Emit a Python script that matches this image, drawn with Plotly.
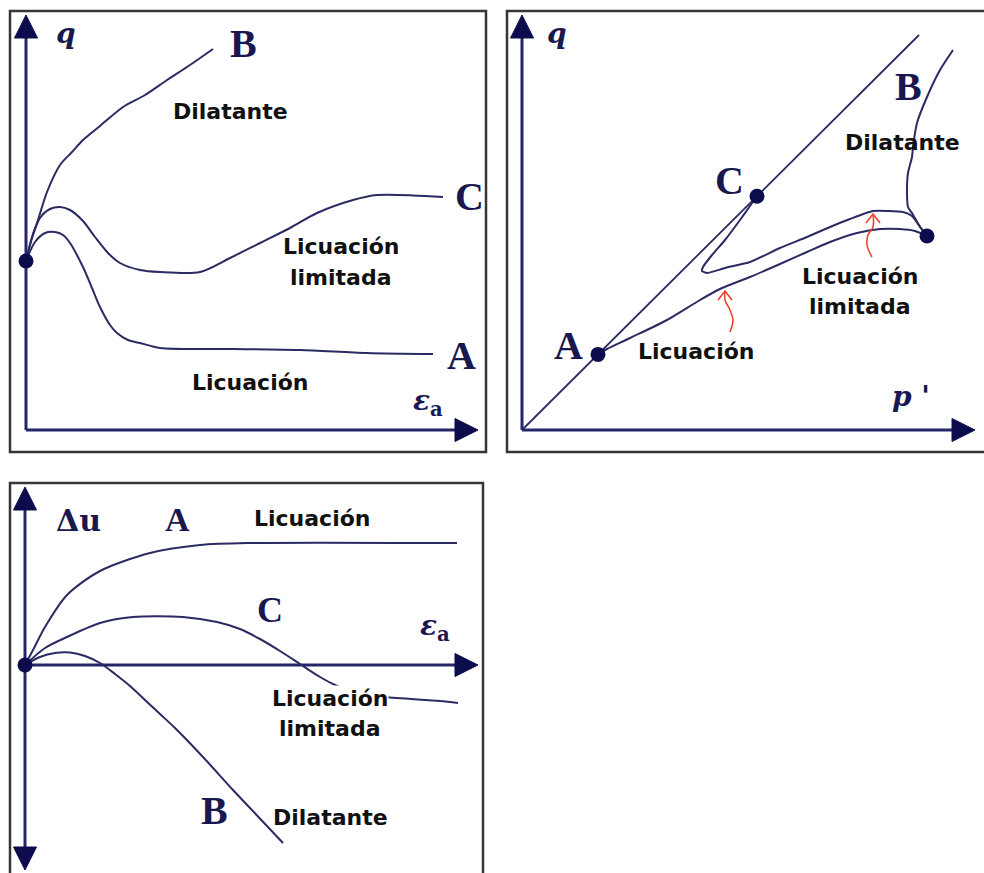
import math
import plotly.graph_objects as go

W, H = 984, 873

# ---------------- q versus axial strain ----------------
q0 = 169  # initial deviator stress at the start of shearing
qe_B_x = [0, 3, 6, 12, 21, 34, 46, 57, 74, 97, 119, 141, 164, 187]
qe_B_y = [169, 182, 193, 210, 238, 265, 278, 290, 304, 323, 335, 350, 365, 381]
qe_C_x = [0, 7, 14, 24, 34, 44, 57, 69, 82, 94, 114, 134, 174, 204, 234, 264, 291, 327, 351, 417]
qe_C_y = [169, 195, 212, 221, 223, 220, 209, 193, 177, 167, 160, 158, 158, 172, 187, 202, 217, 230, 235, 233]
qe_A_x = [0, 9, 19, 29, 37, 44, 57, 66, 74, 84, 91, 102, 114, 134, 207, 274, 341, 407]
qe_A_y = [169, 188, 197, 198, 195, 187, 163, 142, 123, 105, 97, 90, 87, 82, 81, 80, 77, 76]

# ---------------- stress paths q versus p' ----------------
csl_p = [0, 397]
csl_q = [0, 395]
start_p, start_q = 405, 194
end_A_p, end_C_p = 76, 235
sp_A_p = [405, 393, 378, 358, 335, 308, 285, 258, 228, 198, 178, 145, 108, 85, 76]
sp_A_q = [194, 199, 201, 201, 197, 188, 178, 166, 153, 141, 130, 110, 92, 81, 76]
sp_C_p = [405, 399, 390, 381, 351, 328, 308, 285, 258, 228, 203, 185, 180, 181, 190, 203, 218, 228, 235]
sp_C_q = [194, 202, 214, 218, 219, 211, 203, 193, 182, 168, 162, 157, 159, 163, 175, 190, 210, 224, 234]
sp_B_p = [405, 398, 390, 386, 385, 386, 390, 391, 395, 405, 418, 431]
sp_B_q = [194, 203, 217, 223, 240, 257, 273, 283, 307, 333, 360, 380]

# ---------------- pore pressure versus axial strain ----------------
du_A_x = [0, 8, 20, 42, 75, 125, 175, 225, 432]
du_A_y = [0, 15, 38, 70, 94, 112, 120, 122, 122]
du_C_x = [0, 20, 42, 75, 108, 158, 192, 215, 235, 255, 275, 295, 310, 320, 340, 360, 415, 433]
du_C_y = [0, 17, 28, 42, 48, 48, 43, 36, 26, 14, 1, -12, -20, -24, -29, -32, -36, -38]
du_B_x = [0, 15, 30, 45, 60, 75, 90, 105, 120, 135, 150, 178, 208, 225, 258]
du_B_y = [0, 8, 12, 12.5, 9, 2, -9, -21, -35, -49, -63, -92, -125, -143, -178]

# ---------------- styling ----------------
CURVE = "#2b2b63"
AXIS = "#25256a"
HEAD = "#0c0c4c"
LETTER = "#18184f"
TEXT = "#111111"
RED = "#e8452c"
FRAME = "#363636"
SANS = "DejaVu Sans"
SERIF = "DejaVu Serif"
LETTER_FONT = "Liberation Serif"

# panel boxes in page pixels: left, right, top, bottom, origin x, origin y
panels = {
    1: dict(l=10, r=486, t=11, b=452, ox=26, oy=430),
    2: dict(l=507, r=984, t=11, b=452, ox=522, oy=430),
    3: dict(l=10, r=483, t=483, b=873, ox=25, oy=665),
}

fig = go.Figure()
layout_axes = {}
for k, p in panels.items():
    sx = "" if k == 1 else str(k)
    layout_axes["xaxis" + sx] = dict(
        domain=[p["l"] / W, p["r"] / W], range=[p["l"] - p["ox"], p["r"] - p["ox"]],
        anchor="y" + sx, visible=False, fixedrange=True)
    layout_axes["yaxis" + sx] = dict(
        domain=[1 - p["b"] / H, 1 - p["t"] / H], range=[p["oy"] - p["b"], p["oy"] - p["t"]],
        anchor="x" + sx, visible=False, fixedrange=True)


def refs(k):
    s = "" if k == 1 else str(k)
    return "x" + s, "y" + s


def line(k, xs, ys, color=CURVE, width=2, smooth=0.8):
    xr, yr = refs(k)
    fig.add_trace(go.Scatter(x=xs, y=ys, mode="lines", xaxis=xr, yaxis=yr,
                             line=dict(color=color, width=width, shape="spline", smoothing=smooth),
                             hoverinfo="skip"))


def dot(k, x, y, size=15):
    xr, yr = refs(k)
    fig.add_trace(go.Scatter(x=[x], y=[y], mode="markers", xaxis=xr, yaxis=yr,
                             marker=dict(color=HEAD, size=size, line=dict(width=0)),
                             hoverinfo="skip"))


def axis_arrow(k, tip, d, length=23, half=11.5):
    """Axis line from the origin to an arrow tip with a filled triangular head."""
    xr, yr = refs(k)
    tx, ty = tip
    dx, dy = d
    bx, by = tx - dx * length, ty - dy * length
    fig.add_trace(go.Scatter(x=[0, bx], y=[0, by], mode="lines", xaxis=xr, yaxis=yr,
                             line=dict(color=AXIS, width=3), hoverinfo="skip"))
    px, py = -dy, dx
    fig.add_trace(go.Scatter(
        x=[tx, bx + px * half, bx - px * half, tx], y=[ty, by + py * half, by - py * half, ty],
        mode="lines", fill="toself", fillcolor=HEAD, xaxis=xr, yaxis=yr,
        line=dict(color=HEAD, width=1), hoverinfo="skip"))


def red_arrow(k, xs, ys, length=9, half=7):
    xr, yr = refs(k)
    fig.add_trace(go.Scatter(x=xs, y=ys, mode="lines", xaxis=xr, yaxis=yr,
                             line=dict(color=RED, width=1.6, shape="spline"), hoverinfo="skip"))
    tx, ty = xs[-1], ys[-1]
    dx, dy = tx - xs[-2], ty - ys[-2]
    n = math.hypot(dx, dy)
    dx, dy = dx / n, dy / n
    bx, by = tx - dx * length, ty - dy * length
    px, py = -dy, dx
    fig.add_trace(go.Scatter(x=[bx + px * half, tx, bx - px * half],
                             y=[by + py * half, ty, by - py * half], mode="lines",
                             xaxis=xr, yaxis=yr, line=dict(color=RED, width=1.6),
                             hoverinfo="skip"))


annotations = []


def label(k, text, x, y, size=22, family=SANS, color=TEXT, bg=None):
    xr, yr = refs(k)
    a = dict(text=text, x=x, y=y, xref=xr, yref=yr, showarrow=False,
             xanchor="center", yanchor="middle",
             font=dict(family=family, size=size, color=color))
    if bg:
        a.update(bgcolor=bg, borderpad=0)
    annotations.append(a)


def letter(k, text, x, y, size=40):
    label(k, "<b>" + text + "</b>", x, y, size=size, family=LETTER_FONT, color=LETTER)


# ----- panel 1: q - eps_a -----
axis_arrow(1, (0, 415), (0, 1))
axis_arrow(1, (452, 0), (1, 0))
line(1, qe_B_x, qe_B_y)
line(1, qe_C_x, qe_C_y)
line(1, qe_A_x, qe_A_y)
dot(1, 0, q0)
label(1, "<b><i>q</i></b>", 40, 396, size=28, family=SERIF, color=LETTER)
letter(1, "B", 217, 386)
letter(1, "C", 443, 233)
letter(1, "A", 435, 74)
label(1, "<b>Dilatante</b>", 204, 318)
label(1, "<b>Licuación</b>", 315, 183)
label(1, "<b>limitada</b>", 315, 152)
label(1, "<b>Licuación</b>", 224, 47)
label(1, "<b><i>ε</i><sub>a</sub></b>", 402, 27, size=28, family=SERIF, color=LETTER)

# ----- panel 2: q - p' -----
axis_arrow(2, (0, 415), (0, 1))
axis_arrow(2, (453, 0), (1, 0))
line(2, csl_p, csl_q, width=1.8, smooth=0)
line(2, sp_A_p, sp_A_q)
line(2, sp_C_p, sp_C_q, smooth=0.5)
line(2, sp_B_p, sp_B_q, smooth=0.6)
slope = csl_q[1] / csl_p[1]
dot(2, end_A_p, end_A_p * slope)
dot(2, end_C_p, end_C_p * slope)
dot(2, start_p, start_q)
red_arrow(2, [208, 211, 208, 203, 203], [98, 110, 120, 130, 139])
red_arrow(2, [350, 345, 346, 351, 351], [173, 185, 195, 203, 216])
label(2, "<b><i>q</i></b>", 35, 396, size=28, family=SERIF, color=LETTER)
letter(2, "C", 207, 249)
letter(2, "B", 386, 343)
letter(2, "A", 46, 84)
label(2, "<b>Dilatante</b>", 380, 287)
label(2, "<b>Licuación</b>", 338, 153)
label(2, "<b>limitada</b>", 338, 123)
label(2, "<b>Licuación</b>", 174, 78)
label(2, "<b><i>p</i> '</b>", 389, 33, size=28, family=SERIF, color=LETTER)

# ----- panel 3: du - eps_a -----
axis_arrow(3, (0, 178), (0, 1))
axis_arrow(3, (0, -205), (0, -1))
axis_arrow(3, (453, 0), (1, 0))
line(3, du_A_x, du_A_y)
line(3, du_C_x, du_C_y)
line(3, du_B_x, du_B_y)
dot(3, 0, 0)
label(3, "<b>Δu</b>", 53, 145, size=30, family=SERIF, color=LETTER)
letter(3, "A", 152, 146, size=34)
letter(3, "C", 245, 55, size=36)
letter(3, "B", 189, -145)
label(3, "<b><i>ε</i><sub>a</sub></b>", 410, 38, size=28, family=SERIF, color=LETTER)
label(3, "<b>Licuación</b>", 287, 147)
label(3, "<b>Licuación</b>", 305, -33, bg="white")
label(3, "<b>limitada</b>", 305, -63)
label(3, "<b>Dilatante</b>", 305, -152)

# panel frames
shapes = []
for k, p in panels.items():
    x1 = p["r"] + (4 if k == 2 else 0)
    y1 = p["b"] + (4 if k == 3 else 0)
    shapes.append(dict(type="rect", xref="paper", yref="paper",
                       x0=p["l"] / W, x1=x1 / W, y0=1 - y1 / H, y1=1 - p["t"] / H,
                       line=dict(color=FRAME, width=2.5), fillcolor="rgba(0,0,0,0)"))

fig.update_layout(
    width=W, height=H, margin=dict(l=0, r=0, t=0, b=0),
    paper_bgcolor="white", plot_bgcolor="white", showlegend=False,
    annotations=annotations, shapes=shapes, **layout_axes)

fig.write_html("out.html")
